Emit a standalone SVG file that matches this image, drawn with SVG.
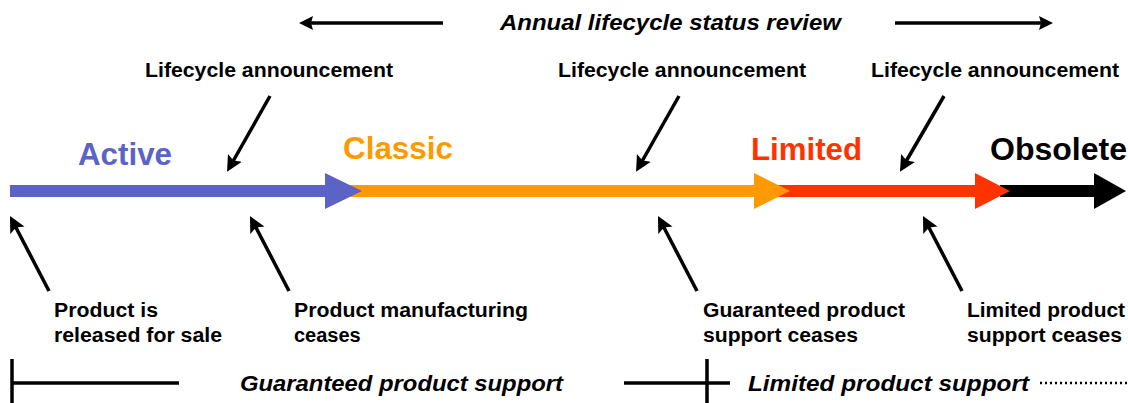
<svg xmlns="http://www.w3.org/2000/svg" width="1128" height="403" viewBox="0 0 1128 403">
<style>
  text { font-family: "Liberation Sans", Arial, sans-serif; font-weight: bold; fill: #000; }
  .phase { font-size: 31px; }
  .note { font-size: 20px; }
  .ital { font-size: 22px; font-style: italic; }
  .ann { stroke: #000; stroke-width: 3.5; fill: none; }
  .rule { stroke: #000; stroke-width: 3.5; fill: none; }
</style>
<defs>
  <marker id="ah" markerUnits="userSpaceOnUse" markerWidth="18" markerHeight="18" refX="11" refY="8" orient="auto">
    <path d="M0,0 L16,8 L0,16 L3,8 z" fill="#000"/>
  </marker>
  <marker id="ahs" markerUnits="userSpaceOnUse" markerWidth="16" markerHeight="16" refX="9" refY="7" orient="auto">
    <path d="M0,0 L14,7 L0,14 L2,7 z" fill="#000"/>
  </marker>
</defs>

<!-- top review row -->
<g id="review">
  <line class="rule" x1="443" y1="23" x2="304" y2="23" marker-end="url(#ahs)"/>
  <text class="ital" x="500" y="30" textLength="341" lengthAdjust="spacingAndGlyphs">Annual lifecycle status review</text>
  <line class="rule" x1="895" y1="23" x2="1048" y2="23" marker-end="url(#ahs)"/>
</g>

<!-- main lifecycle bar (drawn back to front) -->
<g id="obsolete">
  <rect x="1000" y="185" width="96" height="12" fill="#000"/>
  <polygon points="1094,173 1126,191 1094,209" fill="#000"/>
  <text class="phase" x="990" y="160" textLength="137" lengthAdjust="spacingAndGlyphs">Obsolete</text>
</g>
<g id="limited">
  <rect x="777" y="185" width="200" height="12" fill="#FF3300"/>
  <polygon points="975,173 1010,191 975,209" fill="#FF3300"/>
  <text class="phase" x="751" y="160" style="fill:#FF3300" textLength="111" lengthAdjust="spacingAndGlyphs">Limited</text>
</g>
<g id="classic">
  <rect x="350" y="185" width="406" height="12" fill="#FF9900"/>
  <polygon points="754,173 790,191 754,209" fill="#FF9900"/>
  <text class="phase" x="343" y="159" style="fill:#FF9900" textLength="110" lengthAdjust="spacingAndGlyphs">Classic</text>
</g>
<g id="active">
  <rect x="10" y="185" width="318" height="12" fill="#5B64C4"/>
  <polygon points="325,173 362,191 325,209" fill="#5B64C4"/>
  <text class="phase" x="78" y="165" style="fill:#5B64C4" textLength="94" lengthAdjust="spacingAndGlyphs">Active</text>
</g>

<!-- announcement labels -->
<g id="announce1">
  <text class="note" x="145" y="77" textLength="248" lengthAdjust="spacingAndGlyphs">Lifecycle announcement</text>
</g>
<g id="announce2">
  <text class="note" x="558" y="77" textLength="248" lengthAdjust="spacingAndGlyphs">Lifecycle announcement</text>
</g>
<g id="announce3">
  <text class="note" x="871" y="77" textLength="248" lengthAdjust="spacingAndGlyphs">Lifecycle announcement</text>
</g>

<!-- event labels -->
<g id="released">
  <text class="note" x="54" y="317" textLength="104" lengthAdjust="spacingAndGlyphs">Product is</text>
  <text class="note" x="54" y="342" textLength="168" lengthAdjust="spacingAndGlyphs">released for sale</text>
</g>
<g id="mfgceases">
  <text class="note" x="294" y="317" textLength="234" lengthAdjust="spacingAndGlyphs">Product manufacturing</text>
  <text class="note" x="294" y="342">ceases</text>
</g>
<g id="guarceases">
  <text class="note" x="703" y="317" textLength="202" lengthAdjust="spacingAndGlyphs">Guaranteed product</text>
  <text class="note" x="703" y="342" textLength="155" lengthAdjust="spacingAndGlyphs">support ceases</text>
</g>
<g id="limceases">
  <text class="note" x="967" y="317" textLength="158" lengthAdjust="spacingAndGlyphs">Limited product</text>
  <text class="note" x="967" y="342" textLength="155" lengthAdjust="spacingAndGlyphs">support ceases</text>
</g>

<!-- connectors -->
<g id="connectors">
  <line class="ann" x1="270" y1="96" x2="229.5" y2="167.5" marker-end="url(#ah)"/>
  <line class="ann" x1="679" y1="96" x2="638.5" y2="167.5" marker-end="url(#ah)"/>
  <line class="ann" x1="944" y1="96" x2="902.5" y2="167.5" marker-end="url(#ah)"/>
  <line class="ann" x1="49" y1="291" x2="12.3" y2="220.5" marker-end="url(#ah)"/>
  <line class="ann" x1="289" y1="291" x2="252.3" y2="220.5" marker-end="url(#ah)"/>
  <line class="ann" x1="697" y1="291" x2="660.3" y2="220.5" marker-end="url(#ah)"/>
  <line class="ann" x1="962" y1="291" x2="925.3" y2="220.5" marker-end="url(#ah)"/>
</g>

<!-- support periods -->
<g id="support">
  <line class="rule" x1="12" y1="359" x2="12" y2="403"/>
  <line class="rule" x1="12" y1="383" x2="179" y2="383"/>
  <text class="ital" x="240" y="391" textLength="323" lengthAdjust="spacingAndGlyphs">Guaranteed product support</text>
  <line class="rule" x1="624" y1="383" x2="730" y2="383"/>
  <line class="rule" x1="707" y1="359" x2="707" y2="403"/>
  <text class="ital" x="748" y="391" textLength="281" lengthAdjust="spacingAndGlyphs">Limited product support</text>
  <line x1="1040" y1="383" x2="1128" y2="383" stroke="#000" stroke-width="2.5" stroke-dasharray="2 3"/>
</g>
</svg>
